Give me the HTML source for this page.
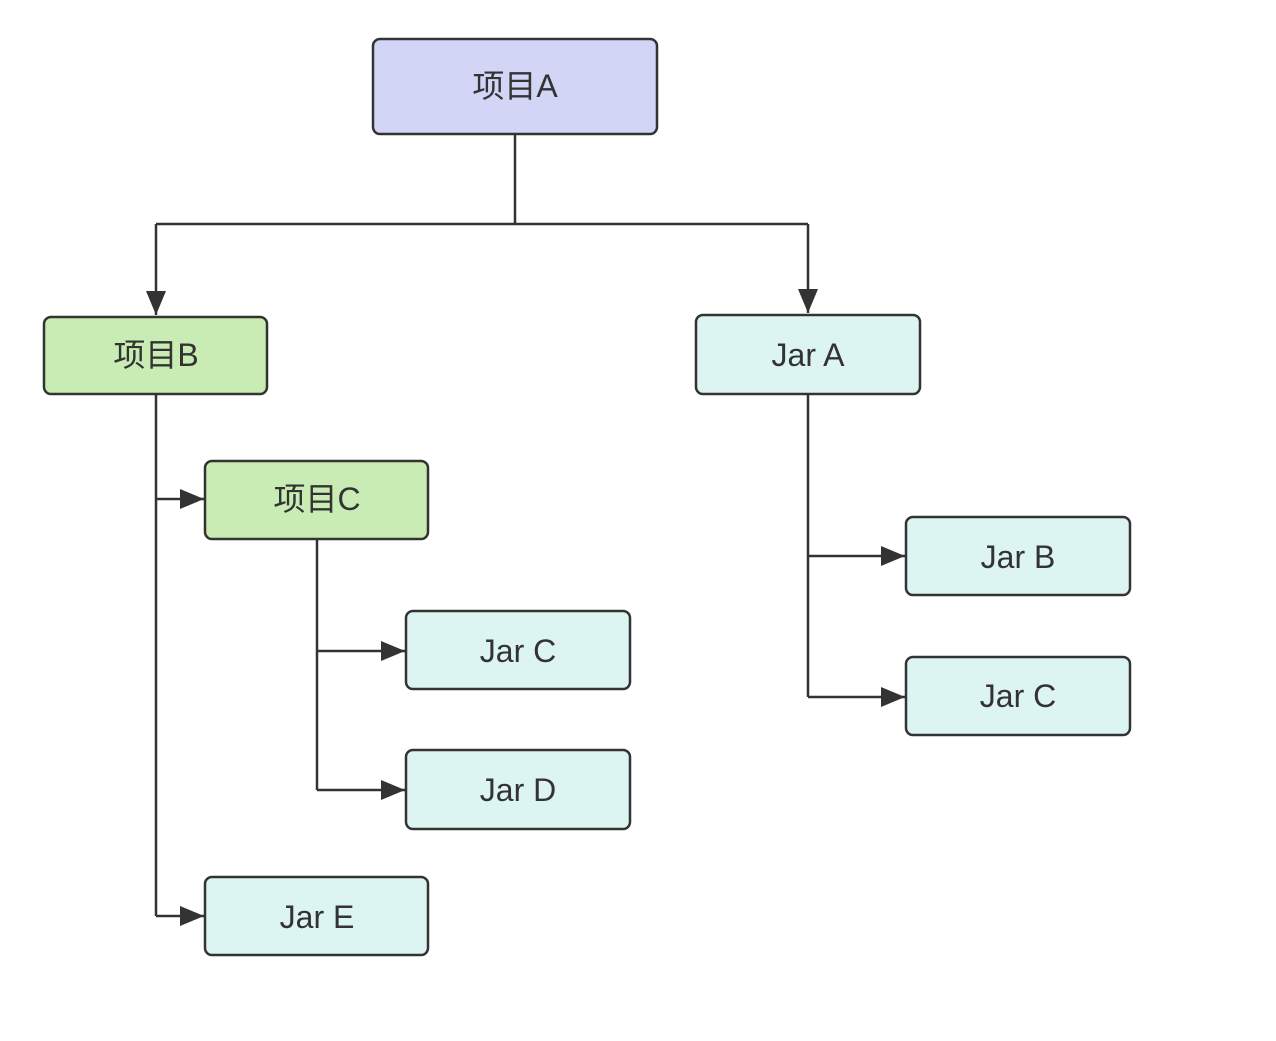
<!DOCTYPE html>
<html><head><meta charset="utf-8"><style>
html,body{margin:0;padding:0;background:#fff;}
svg text{font-family:"Liberation Sans","Noto Sans CJK SC",sans-serif;font-size:32px;fill:#333;}
</style></head><body>
<svg width="1276" height="1036" viewBox="0 0 1276 1036" xmlns="http://www.w3.org/2000/svg">
<defs><marker id="ar" markerWidth="12" markerHeight="12" refX="11" refY="6" orient="auto" markerUnits="userSpaceOnUse"><path d="M0,0 L24,6 L0,12 Z" transform="scale(0.5,1)" fill="#333"/></marker>
<marker id="a" viewBox="0 0 24 20" refX="24" refY="10" markerWidth="24" markerHeight="20" orient="auto" markerUnits="userSpaceOnUse"><path d="M0,0 L24,10 L0,20 Z" fill="#333"/></marker></defs>
<g fill="none" stroke="#333" stroke-width="2.5">
<path d="M515 134 V224 M156 224 H808"/>
<path d="M156 224 V315" marker-end="url(#a)"/>
<path d="M808 224 V313" marker-end="url(#a)"/>
<path d="M156 394 V916"/>
<path d="M156 499 H204" marker-end="url(#a)"/>
<path d="M156 916 H204" marker-end="url(#a)"/>
<path d="M317 539 V790"/>
<path d="M317 651 H405" marker-end="url(#a)"/>
<path d="M317 790 H405" marker-end="url(#a)"/>
<path d="M808 394 V697"/>
<path d="M808 556 H905" marker-end="url(#a)"/>
<path d="M808 697 H905" marker-end="url(#a)"/>
</g>
<g stroke="#333" stroke-width="2.5">
<rect x="373" y="39" width="284" height="95" rx="7" fill="#d3d5f7"/>
<rect x="44" y="317" width="223" height="77" rx="7" fill="#c8ecb3"/>
<rect x="696" y="315" width="224" height="79" rx="7" fill="#dcf4f2"/>
<rect x="205" y="461" width="223" height="78" rx="7" fill="#c8ecb3"/>
<rect x="406" y="611" width="224" height="78" rx="7" fill="#dcf4f2"/>
<rect x="406" y="750" width="224" height="79" rx="7" fill="#dcf4f2"/>
<rect x="205" y="877" width="223" height="78" rx="7" fill="#dcf4f2"/>
<rect x="906" y="517" width="224" height="78" rx="7" fill="#dcf4f2"/>
<rect x="906" y="657" width="224" height="78" rx="7" fill="#dcf4f2"/>
</g>
<g text-anchor="middle">
<text x="515" y="97">项目A</text>
<text x="156" y="366">项目B</text>
<text x="808" y="366">Jar A</text>
<text x="317" y="510">项目C</text>
<text x="518" y="662">Jar C</text>
<text x="518" y="801">Jar D</text>
<text x="317" y="928">Jar E</text>
<text x="1018" y="568">Jar B</text>
<text x="1018" y="707">Jar C</text>
</g>
</svg>
</body></html>
